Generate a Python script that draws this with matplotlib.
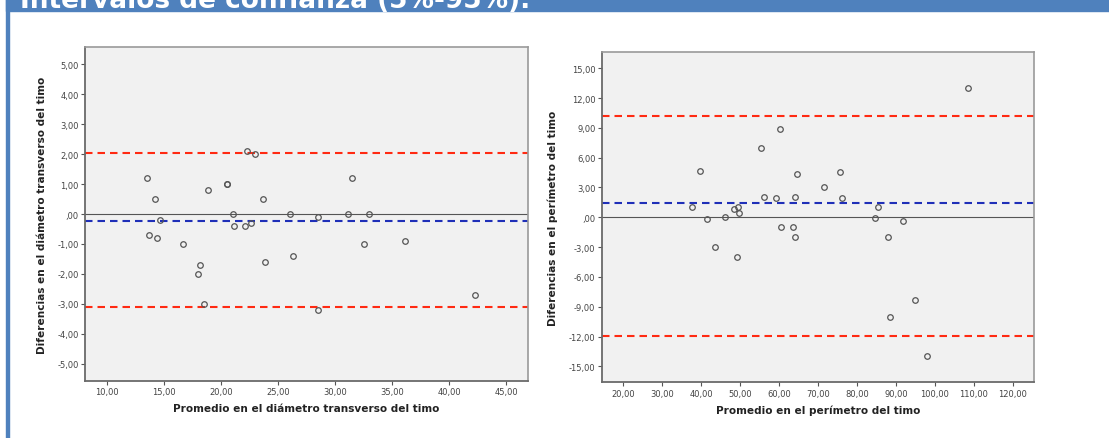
import matplotlib
matplotlib.use("Agg")
import matplotlib.pyplot as plt
from matplotlib.ticker import FuncFormatter
from matplotlib.patches import Rectangle

# ---------------- data ----------------
# Left panel: transverse diameter (mean, difference)
diam_mean = [13.5, 14.2, 14.6, 13.7, 14.4, 18.8, 20.5, 20.5, 21.0, 21.1, 22.1, 22.6,
             22.3, 23.0, 23.7, 26.0, 16.6, 18.0, 18.1, 18.5, 23.8, 26.3, 28.5, 32.5,
             36.1, 42.3, 28.5, 31.1, 31.5, 33.0]
diam_diff = [1.2, 0.5, -0.2, -0.7, -0.8, 0.8, 1.0, 1.0, 0.0, -0.4, -0.4, -0.3,
             2.1, 2.0, 0.5, 0.0, -1.0, -2.0, -1.7, -3.0, -1.6, -1.4, -3.2, -1.0,
             -0.9, -2.7, -0.1, 0.0, 1.2, 0.0]
diam_upper = 2.02
diam_mean_diff = -0.23
diam_lower = -3.09

# Right panel: perimeter (mean, difference)
per_mean = [37.6, 39.8, 41.5, 46.0, 48.3, 49.5, 49.7, 55.4, 56.0, 59.1, 60.1, 60.5,
            63.5, 64.0, 64.5, 64.0, 43.5, 49.1, 75.6, 71.5, 76.1, 85.4, 84.6, 91.9,
            87.9, 108.4, 94.8, 88.5, 97.9]
per_diff = [1.0, 4.7, -0.2, 0.0, 0.87, 1.0, 0.4, 7.0, 2.0, 1.9, 8.9, -1.0,
            -1.0, 2.0, 4.4, -2.0, -3.0, -4.0, 4.6, 3.0, 1.9, 1.0, -0.1, -0.4,
            -2.0, 13.0, -8.3, -10.0, -14.0]
per_upper = 10.17
per_mean_diff = 1.44
per_lower = -11.92

diam_xticks = [10, 15, 20, 25, 30, 35, 40, 45]
diam_yticks = [-5, -4, -3, -2, -1, 0, 1, 2, 3, 4, 5]
per_xticks = [20, 30, 40, 50, 60, 70, 80, 90, 100, 110, 120]
per_yticks = [-15, -12, -9, -6, -3, 0, 3, 6, 9, 12, 15]

title = "Intervalos de confianza (5%-95%)."
diam_xlabel = "Promedio en el diámetro transverso del timo"
diam_ylabel = "Diferencias en el diámetro transverso del timo"
per_xlabel = "Promedio en el perímetro del timo"
per_ylabel = "Diferencias en el perímetro del timo"

# ---------------- figure ----------------
W, H = 1109, 439
fig = plt.figure(figsize=(W / 100, H / 100), dpi=100)
fig.patch.set_facecolor("white")

BLUE_FRAME = "#4f81bd"
fig.patches.append(Rectangle((6 / W, 1 - 12 / H), 1 - 6 / W, 12 / H,
                             transform=fig.transFigure, color=BLUE_FRAME, zorder=0))
fig.patches.append(Rectangle((6 / W, 0), 3 / W, 1,
                             transform=fig.transFigure, color=BLUE_FRAME, zorder=0))
fig.text(20 / W, 1 - 8 / H, title, color="white", fontsize=19, fontweight="bold",
         va="baseline", ha="left", family="DejaVu Sans")


def spss_fmt(v, pos):
    s = f"{v:.2f}".replace(".", ",")
    if s.startswith("0,"):
        s = s[1:]
    if s == "-0,00":
        s = ",00"
    return s


def make_panel(px_left, px_right, px_top, px_bottom, xs, ys, upper, meanv, lower,
               xlim, ylim, xticks, yticks, xlabel, ylabel, ylabel_x, xlabel_y):
    ax = fig.add_axes([px_left / W, 1 - px_bottom / H,
                       (px_right - px_left) / W, (px_bottom - px_top) / H])
    ax.set_facecolor("#f1f1f1")
    ax.set_xlim(*xlim)
    ax.set_ylim(*ylim)
    ax.set_xticks(xticks)
    ax.set_yticks(yticks)
    ax.xaxis.set_major_formatter(FuncFormatter(spss_fmt))
    ax.yaxis.set_major_formatter(FuncFormatter(spss_fmt))
    ax.tick_params(axis="both", direction="out", length=3, width=0.8, color="#555555",
                   labelsize=6, labelcolor="#444444", pad=1.5)
    for side in ("top", "right"):
        ax.spines[side].set_color("#9a9a9a")
        ax.spines[side].set_linewidth(1.2)
    for side in ("left", "bottom"):
        ax.spines[side].set_color("#6a6a6a")
        ax.spines[side].set_linewidth(1.3)
    ax.axhline(0, color="#555555", lw=0.8, zorder=2)
    ax.axhline(upper, color="#ff2a12", lw=1.5, ls=(0, (3.6, 2.4)), zorder=2)
    ax.axhline(lower, color="#ff2a12", lw=1.5, ls=(0, (3.6, 2.4)), zorder=2)
    ax.axhline(meanv, color="#1f2fb8", lw=1.5, ls=(0, (3.6, 2.4)), zorder=2)
    ax.plot(xs, ys, ls="none", marker="o", ms=4, mfc="none", mec="#555555",
            mew=0.9, zorder=3)
    cx = (px_left + px_right) / 2
    fig.text(cx / W, 1 - xlabel_y / H, xlabel, ha="center", va="center",
             fontsize=7.6, fontweight="bold", color="#222222")
    cy = (px_top + px_bottom) / 2
    fig.text(ylabel_x / W, 1 - cy / H, ylabel, ha="center", va="center",
             rotation=90, fontsize=7.6, fontweight="bold", color="#222222")
    return ax


make_panel(85, 528, 48, 382, diam_mean, diam_diff, diam_upper, diam_mean_diff,
           diam_lower, (8.04, 46.93), (-5.57, 5.57), diam_xticks, diam_yticks,
           diam_xlabel, diam_ylabel, 42, 409)

make_panel(601.7, 1034.3, 53.3, 383.3, per_mean, per_diff, per_upper, per_mean_diff,
           per_lower, (14.45, 125.5), (-16.6, 16.6), per_xticks, per_yticks,
           per_xlabel, per_ylabel, 553, 411)

fig.savefig("out.png", dpi=100, facecolor="white")
